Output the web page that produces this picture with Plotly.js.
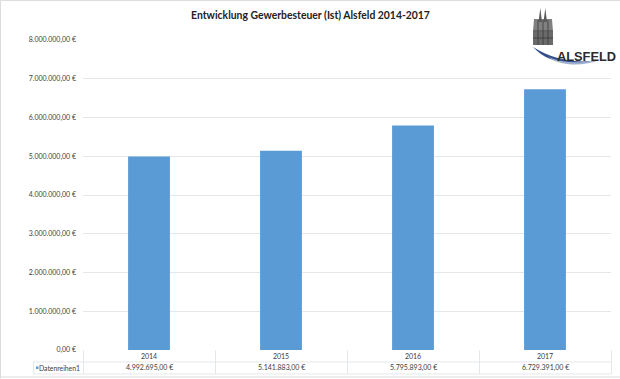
<!DOCTYPE html>
<html>
<head>
<meta charset="utf-8">
<script src="https://cdn.plot.ly/plotly-3.0.1.min.js"></script>
<style>html,body{margin:0;padding:0;background:#fff;overflow:hidden}#chart{width:620px;height:379px}</style>
</head>
<body>
<div id="chart"></div>
<script>
const categories = ['2014', '2015', '2016', '2017'];
const values = [4992695, 5141883, 5795893, 6729391];
const tableLabels = ['4.992.695,00 €', '5.141.883,00 €', '5.795.893,00 €', '6.729.391,00 €'];
const seriesName = 'Datenreihen1';
const chartTitle = 'Entwicklung Gewerbesteuer (Ist) Alsfeld 2014-2017';
const logoText = 'ALSFELD';

const W = 620, H = 379;
const mL = 83, mR = 9, mT = 40, mB = 28.5;
const plotW = W - mL - mR, plotH = H - mT - mB;
// paper coordinates are relative to the plot area
const px = x => (x - mL) / plotW;
const py = y => (H - mB - y) / plotH;
const textColor = '#404040', tableLine = '#e4e7ea', frame = '#dcdcdc';
const FONT = 'Lato, "Open Sans", sans-serif';

const hline = (x0, x1, y, color) => ({type:'line', xref:'paper', yref:'paper', x0:px(x0), x1:px(x1), y0:py(y), y1:py(y), line:{color:color || tableLine, width:1}});
const vline = (x, y0, y1, color) => ({type:'line', xref:'paper', yref:'paper', x0:px(x), x1:px(x), y0:py(y0), y1:py(y1), line:{color:color || tableLine, width:1}});

const shapes = [
  hline(83, 612, 362.5), hline(33, 612, 374.5), hline(33, 83, 362.5),
  vline(33.5, 362, 374), vline(83.5, 351, 374), vline(215.5, 351, 374),
  vline(347.5, 351, 374), vline(479.5, 351, 374), vline(611.5, 351, 374),
  hline(0, 620, 0.5, frame), hline(0, 620, 377.5, frame), vline(0.5, 0, 379, frame)
];
shapes.push({type:'rect', xref:'paper', yref:'paper', x0:px(36), x1:px(38.5), y0:py(367), y1:py(369.5), fillcolor:'#5b9bd5', line:{width:0}});

const logoSvg = `<svg xmlns="http://www.w3.org/2000/svg" width="120" height="80" viewBox="0 0 120 80">
<path d="M33 47 C45 60 64 67 92 61 C72 63 50 58 33 47Z" fill="#34508c"/>
<path d="M48 57 C62 67 84 66 100 60 L92 61 C76 64 60 62 48 57Z" fill="#9fb0cf"/>
<rect x="33" y="31" width="20" height="14" fill="#6a6a6a"/>
<path d="M33 32 L34 19 L52 19 L53 32Z" fill="#808080"/>
<path d="M38.5 22 L40.3 8 L42 22Z M43.5 22 L45.3 8 L47 22Z" fill="#5a5a5a"/>
<path d="M38 20V45M43 20V45M48 20V45M33 31H53M33 38H53" stroke="#3a3a3a" stroke-width="0.8"/>
</svg>`;

const annotations = [
  {xref:'paper', yref:'paper', x:px(81.5), y:py(368.5), xanchor:'right', yanchor:'middle', showarrow:false, align:'right', text:seriesName, font:{family:FONT, size:6.8, color:textColor}},
  {xref:'paper', yref:'paper', x:px(555.5), y:py(56.5), xanchor:'left', yanchor:'middle', showarrow:false, text:'<b>' + logoText + '</b>', font:{family:'"Liberation Sans", sans-serif', size:12.8, color:'#2b2b2b'}, borderpad:0},
  ...categories.map((c, i) => ({xref:'x', yref:'paper', x:i, y:py(368.5), xanchor:'center', yanchor:'middle', showarrow:false, text:tableLabels[i], font:{family:FONT, size:7, color:textColor}}))
];

Plotly.newPlot('chart', [{
  type:'bar', x:categories, y:values, width:0.317,
  marker:{color:'#5b9bd5', line:{width:0}}, hoverinfo:'skip'
}], {
  width:W, height:H, autosize:false, showlegend:false,
  paper_bgcolor:'#fff', plot_bgcolor:'#fff',
  separators:',.',
  margin:{l:mL, r:mR, t:mT, b:mB, pad:0, autoexpand:false},
  title:{text:'<b>' + chartTitle + '</b>', x:310.5/W, xanchor:'center', xref:'container', y:1-15/H, yref:'container', yanchor:'middle', font:{family:FONT, size:10.4, color:'#222'}},
  xaxis:{type:'category', range:[-0.5,3.5], showgrid:false, zeroline:false, showline:false, ticks:'', ticklabelstandoff:1, tickfont:{family:FONT, size:7, color:textColor}},
  yaxis:{range:[0,8000000], dtick:1000000, tickformat:',.2f', ticksuffix:' €', gridcolor:'#e6e6e6', gridwidth:1, zeroline:false, showline:false, ticks:'', ticklabelstandoff:6, tickfont:{family:FONT, size:7, color:textColor}},
  shapes, annotations,
  images:[{source:'data:image/svg+xml;utf8,' + encodeURIComponent(logoSvg), xref:'paper', yref:'paper', x:px(500), y:py(0), sizex:120/plotW, sizey:80/plotH, xanchor:'left', yanchor:'top', sizing:'stretch', layer:'above'}]
}, {displayModeBar:false, staticPlot:true});
</script>
</body>
</html>
